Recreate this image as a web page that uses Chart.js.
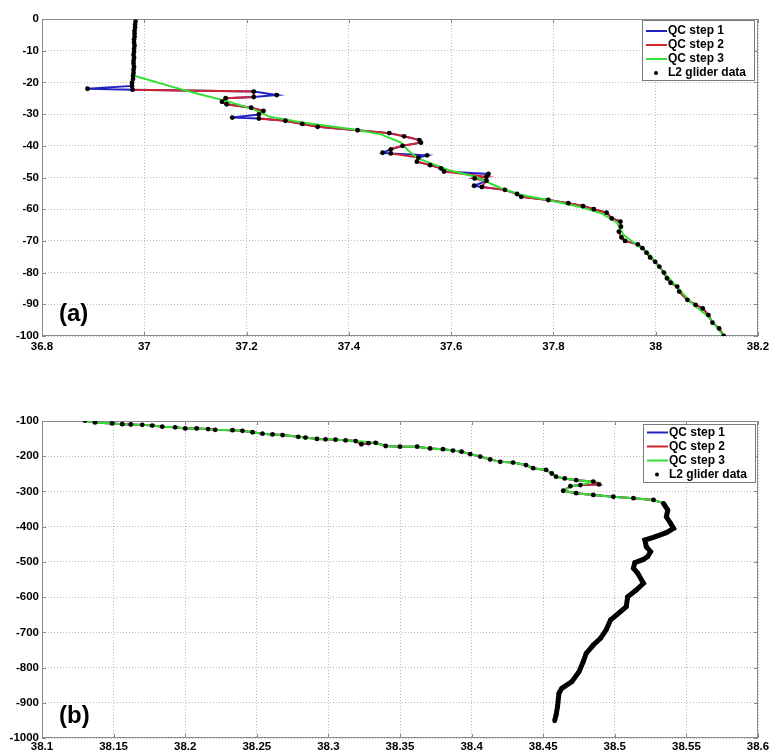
<!DOCTYPE html>
<html>
<head>
<meta charset="utf-8">
<script src="https://cdn.jsdelivr.net/npm/chart.js@4.4.0/dist/chart.umd.min.js"></script>
<style>
  html, body { margin: 0; padding: 0; background: #fff; }
  body { width: 769px; height: 751px; position: relative; overflow: hidden; }
  .panel { position: absolute; left: 0; width: 769px; }
  #panelA { top: 0; height: 360px; }
  #panelB { top: 380px; height: 371px; }
</style>
</head>
<body>
<div class="panel" id="panelA"><canvas id="chartA"></canvas></div>
<div class="panel" id="panelB"><canvas id="chartB"></canvas></div>
<script>
// Series names / colours
const seriesNames = ['QC step 1', 'QC step 2', 'QC step 3', 'L2 glider data'];
const seriesColors = ['#2323c3', '#cf2330', '#33e033', '#000000'];

// Tick labels
const topTicksX = [36.8, 37, 37.2, 37.4, 37.6, 37.8, 38, 38.2];
const topTicksY = [0, -10, -20, -30, -40, -50, -60, -70, -80, -90, -100];
const botTicksX = [38.1, 38.15, 38.2, 38.25, 38.3, 38.35, 38.4, 38.45, 38.5, 38.55, 38.6];
const botTicksY = [-100, -200, -300, -400, -500, -600, -700, -800, -900, -1000];

// (a) 0-100 m: L2 glider data (salinity, depth)
const topSal = [
  36.983, 36.982, 36.982, 36.981, 36.981, 36.981, 36.980, 36.980, 36.981, 36.980,
  36.980, 36.979, 36.980, 36.979, 36.979, 36.980, 36.979, 36.979, 36.978, 36.978,
  36.976, 36.976, 36.889, 36.977, 37.214, 37.259, 37.214, 37.159, 37.152, 37.161,
  37.209, 37.233, 37.224, 37.172, 37.224, 37.276, 37.309, 37.339, 37.417, 37.479,
  37.508, 37.538, 37.541, 37.505, 37.482, 37.466, 37.482, 37.553, 37.536, 37.533,
  37.559, 37.580, 37.586, 37.673, 37.669, 37.646, 37.669, 37.645, 37.660, 37.705,
  37.729, 37.737, 37.790, 37.829, 37.858, 37.879, 37.904, 37.914, 37.931, 37.932,
  37.928, 37.933, 37.940, 37.965, 37.974, 37.982, 37.989, 37.999, 38.007, 38.016,
  38.022, 38.029, 38.042, 38.046, 38.062, 38.078, 38.092, 38.103, 38.111, 38.124,
  38.133
];
const topDepth = [
  -0.8, -1.8, -2.7, -3.7, -4.6, -5.6, -6.5, -7.5, -8.4, -9.4,
  -10.3, -11.3, -12.2, -13.2, -14.1, -15.1, -16.0, -17.0, -17.9, -18.9,
  -20.1, -21.1, -22.0, -22.3, -22.9, -24.0, -24.6, -25.0, -26.1, -26.9,
  -28.0, -29.0, -30.1, -31.1, -31.4, -32.1, -33.1, -34.0, -35.1, -36.0,
  -37.0, -38.2, -39.0, -40.0, -41.1, -42.2, -42.4, -43.0, -43.7, -45.0,
  -46.1, -47.1, -48.1, -48.9, -49.8, -50.3, -51.0, -52.6, -53.0, -53.9,
  -55.2, -56.1, -57.1, -58.1, -59.0, -60.0, -61.1, -62.9, -63.9, -65.5,
  -67.1, -68.9, -70.0, -71.1, -72.3, -73.7, -75.2, -76.6, -78.1, -80.0,
  -81.8, -83.2, -84.4, -86.0, -88.6, -90.2, -91.3, -93.4, -95.8, -97.6,
  -100.0
];
const topLineStart = 19;                        // QC lines start here
const topSpikes = [22, 25, 33, 45, 47, 53, 57]; // removed by QC step 2

// (a) QC step 3 smoothed profile
const topQc3Sal = [
  36.982, 37.057, 37.110, 37.162, 37.214, 37.245, 37.306, 37.417, 37.463, 37.502,
  37.515, 37.535, 37.600, 37.646, 37.698, 37.737, 37.790, 37.855, 37.894, 37.924,
  37.937, 37.959, 37.986, 38.012, 38.038, 38.071, 38.103, 38.133
];
const topQc3Depth = [
  -18.0, -21.5, -23.8, -25.9, -28.5, -30.8, -32.6, -35.0, -36.4, -39.0,
  -41.3, -44.0, -47.9, -49.7, -53.4, -55.5, -57.1, -59.4, -61.3, -64.2,
  -68.1, -70.8, -73.9, -79.2, -83.9, -89.7, -93.9, -100.0
];

// (b) 100-1000 m: L2 glider data
const botSal = [
  38.130, 38.137, 38.149, 38.156, 38.162, 38.170, 38.177, 38.184, 38.193, 38.200,
  38.208, 38.216, 38.221, 38.233, 38.240, 38.247, 38.254, 38.261, 38.268, 38.279,
  38.284, 38.292, 38.298, 38.305, 38.312, 38.319, 38.323, 38.328, 38.333, 38.340,
  38.350, 38.362, 38.371, 38.380, 38.387, 38.393, 38.399, 38.406, 38.413, 38.420,
  38.429, 38.438, 38.443, 38.452, 38.456, 38.459, 38.465, 38.473, 38.485, 38.489,
  38.476, 38.469, 38.464, 38.473, 38.485, 38.499, 38.513, 38.527, 38.534, 38.537,
  38.536, 38.539, 38.541, 38.536, 38.528, 38.521, 38.522, 38.525, 38.523, 38.520,
  38.514, 38.513, 38.516, 38.520, 38.515, 38.509, 38.508, 38.504, 38.497, 38.494,
  38.490, 38.485, 38.480, 38.478, 38.475, 38.470, 38.463, 38.461, 38.460, 38.459,
  38.458
];
const botDepth = [
  -99, -104, -107, -109, -110, -111, -113, -116, -118, -121,
  -121, -123, -125, -126, -128, -132, -136, -138, -140, -145,
  -147, -151, -152, -153, -155, -157, -166, -163, -162, -171,
  -173, -173, -178, -180, -184, -187, -194, -201, -209, -216,
  -218, -225, -234, -239, -249, -258, -263, -268, -272, -280,
  -282, -285, -298, -305, -310, -315, -319, -324, -334, -353,
  -372, -391, -405, -417, -429, -438, -457, -471, -485, -493,
  -502, -518, -532, -561, -580, -599, -627, -641, -665, -693,
  -717, -736, -760, -783, -812, -840, -859, -873, -911, -935,
  -951
];
const botQc3Skip = [26, 27, 49];  // small wiggles smoothed out by step 3
const botDenseFrom = -334;        // below this the dots merge into a solid trace

function toPoints(sal, depth) {
  return sal.map((s, i) => ({ x: s, y: depth[i] }));
}

function buildDatasets(l2, qc1, qc2, qc3, denseFrom) {
  const lines = [qc1, qc2, qc3].map((pts, i) => ({
    label: seriesNames[i],
    data: pts,
    showLine: true,
    borderColor: seriesColors[i],
    borderWidth: 2,
    pointRadius: 0,
    order: 4 - i
  }));
  const dots = {
    label: seriesNames[3],
    data: l2,
    legendDot: true,
    pointRadius: 2.4,
    pointBackgroundColor: '#000',
    pointBorderWidth: 0,
    order: 0
  };
  if (denseFrom !== undefined) {
    dots.showLine = true;
    dots.borderWidth = 5;
    dots.segment = {
      borderColor: c => (c.p0.parsed.y <= denseFrom ? '#000' : 'rgba(0,0,0,0)')
    };
  }
  return lines.concat([dots]);
}

// Box around the axes with inward ticks (matlab style)
const axesBox = {
  id: 'axesBox',
  beforeDatasetsDraw(chart) {
    const { ctx, chartArea: a, scales } = chart;
    ctx.save();
    ctx.strokeStyle = '#8a8a8a';
    ctx.lineWidth = 1;
    ctx.strokeRect(a.left + 0.5, a.top + 0.5, a.right - a.left - 1, a.bottom - a.top - 1);
    ctx.beginPath();
    scales.x.ticks.forEach(t => {
      const px = Math.round(scales.x.getPixelForValue(t.value)) + 0.5;
      ctx.moveTo(px, a.bottom); ctx.lineTo(px, a.bottom - 4);
      ctx.moveTo(px, a.top); ctx.lineTo(px, a.top + 4);
    });
    scales.y.ticks.forEach(t => {
      const py = Math.round(scales.y.getPixelForValue(t.value)) + 0.5;
      ctx.moveTo(a.left, py); ctx.lineTo(a.left + 4, py);
      ctx.moveTo(a.right, py); ctx.lineTo(a.right - 4, py);
    });
    ctx.stroke();
    ctx.restore();
  }
};

// Legend box inside the axes + panel tag
const boxLegend = {
  id: 'boxLegend',
  afterDatasetsDraw(chart, args, opts) {
    const { ctx, chartArea: a } = chart;
    const x0 = a.right - opts.right - opts.width;
    const y0 = a.top + opts.top;
    ctx.save();
    ctx.fillStyle = '#fff';
    ctx.fillRect(x0, y0, opts.width, opts.height);
    ctx.strokeStyle = '#7a7a7a';
    ctx.lineWidth = 1;
    ctx.strokeRect(Math.round(x0) + 0.5, Math.round(y0) + 0.5, opts.width, opts.height);
    ctx.font = 'bold 12px Arial, "Liberation Sans", sans-serif';
    ctx.textBaseline = 'middle';
    chart.data.datasets.forEach((ds, i) => {
      const cy = y0 + opts.first + i * opts.step;
      if (ds.legendDot) {
        ctx.fillStyle = '#000';
        ctx.beginPath();
        ctx.arc(x0 + 14, cy, 2, 0, Math.PI * 2);
        ctx.fill();
      } else {
        ctx.strokeStyle = ds.borderColor;
        ctx.lineWidth = 2;
        ctx.beginPath();
        ctx.moveTo(x0 + 4, cy);
        ctx.lineTo(x0 + 25, cy);
        ctx.stroke();
      }
      ctx.fillStyle = '#000';
      ctx.fillText(ds.label, x0 + 26, cy);
    });
    ctx.font = 'bold 24px Arial, "Liberation Sans", sans-serif';
    ctx.textBaseline = 'alphabetic';
    ctx.fillText(opts.tag, a.left + 17, a.bottom - 15);
    ctx.restore();
  }
};

Chart.defaults.font.family = 'Arial, "Liberation Sans", sans-serif';
Chart.defaults.font.weight = 'bold';
Chart.defaults.font.size = 11.5;
Chart.defaults.color = '#000';

function makeChart(canvasId, cfg) {
  return new Chart(document.getElementById(canvasId), {
    type: 'scatter',
    data: { datasets: cfg.datasets },
    options: {
      responsive: true,
      maintainAspectRatio: false,
      animation: false,
      events: [],
      layout: { padding: { top: cfg.padTop, right: 11, left: 0, bottom: 0 } },
      plugins: {
        legend: { display: false },
        tooltip: { enabled: false },
        boxLegend: cfg.legend
      },
      scales: {
        x: {
          type: 'linear',
          min: cfg.ticksX[0],
          max: cfg.ticksX[cfg.ticksX.length - 1],
          afterBuildTicks: s => { s.ticks = cfg.ticksX.map(v => ({ value: v })); },
          afterFit: s => { s.height = cfg.xHeight; s.paddingLeft = 0; s.paddingRight = 0; },
          grid: { color: '#bcbcbc', lineWidth: 1, drawTicks: false },
          border: { display: false, dash: [1, 2] },
          ticks: { padding: cfg.xPad, maxRotation: 0, autoSkip: false, callback: v => String(+v.toFixed(2)) }
        },
        y: {
          type: 'linear',
          min: Math.min(...cfg.ticksY),
          max: Math.max(...cfg.ticksY),
          afterBuildTicks: s => { s.ticks = cfg.ticksY.map(v => ({ value: v })); },
          afterFit: s => { s.width = 42; s.paddingTop = 0; s.paddingBottom = 0; },
          grid: { color: '#bcbcbc', lineWidth: 1, drawTicks: false },
          border: { display: false, dash: [1, 2] },
          ticks: { padding: 3, autoSkip: false, callback: v => String(v) }
        }
      }
    },
    plugins: [axesBox, boxLegend]
  });
}

// Panel (a)
const topL2 = toPoints(topSal, topDepth);
const topQc1 = topL2.slice(topLineStart);
const topQc2 = topL2.filter((p, i) => i >= topLineStart && !topSpikes.includes(i));
const topQc3 = toPoints(topQc3Sal, topQc3Depth);

makeChart('chartA', {
  datasets: buildDatasets(topL2, topQc1, topQc2, topQc3),
  ticksX: topTicksX,
  ticksY: topTicksY,
  padTop: 19,
  xHeight: 24,
  xPad: 4,
  legend: { tag: '(a)', right: 4, top: 1, width: 112, height: 60, first: 11, step: 14 }
});

// Panel (b)
const botL2 = toPoints(botSal, botDepth);
const botQc3 = botL2.filter((p, i) => !botQc3Skip.includes(i));

makeChart('chartB', {
  datasets: buildDatasets(botL2, botL2, botL2, botQc3, botDenseFrom),
  ticksX: botTicksX,
  ticksY: botTicksY,
  padTop: 41,
  xHeight: 13,
  xPad: 2,
  legend: { tag: '(b)', right: 3, top: 3, width: 112, height: 58, first: 8.5, step: 14 }
});
</script>
</body>
</html>
